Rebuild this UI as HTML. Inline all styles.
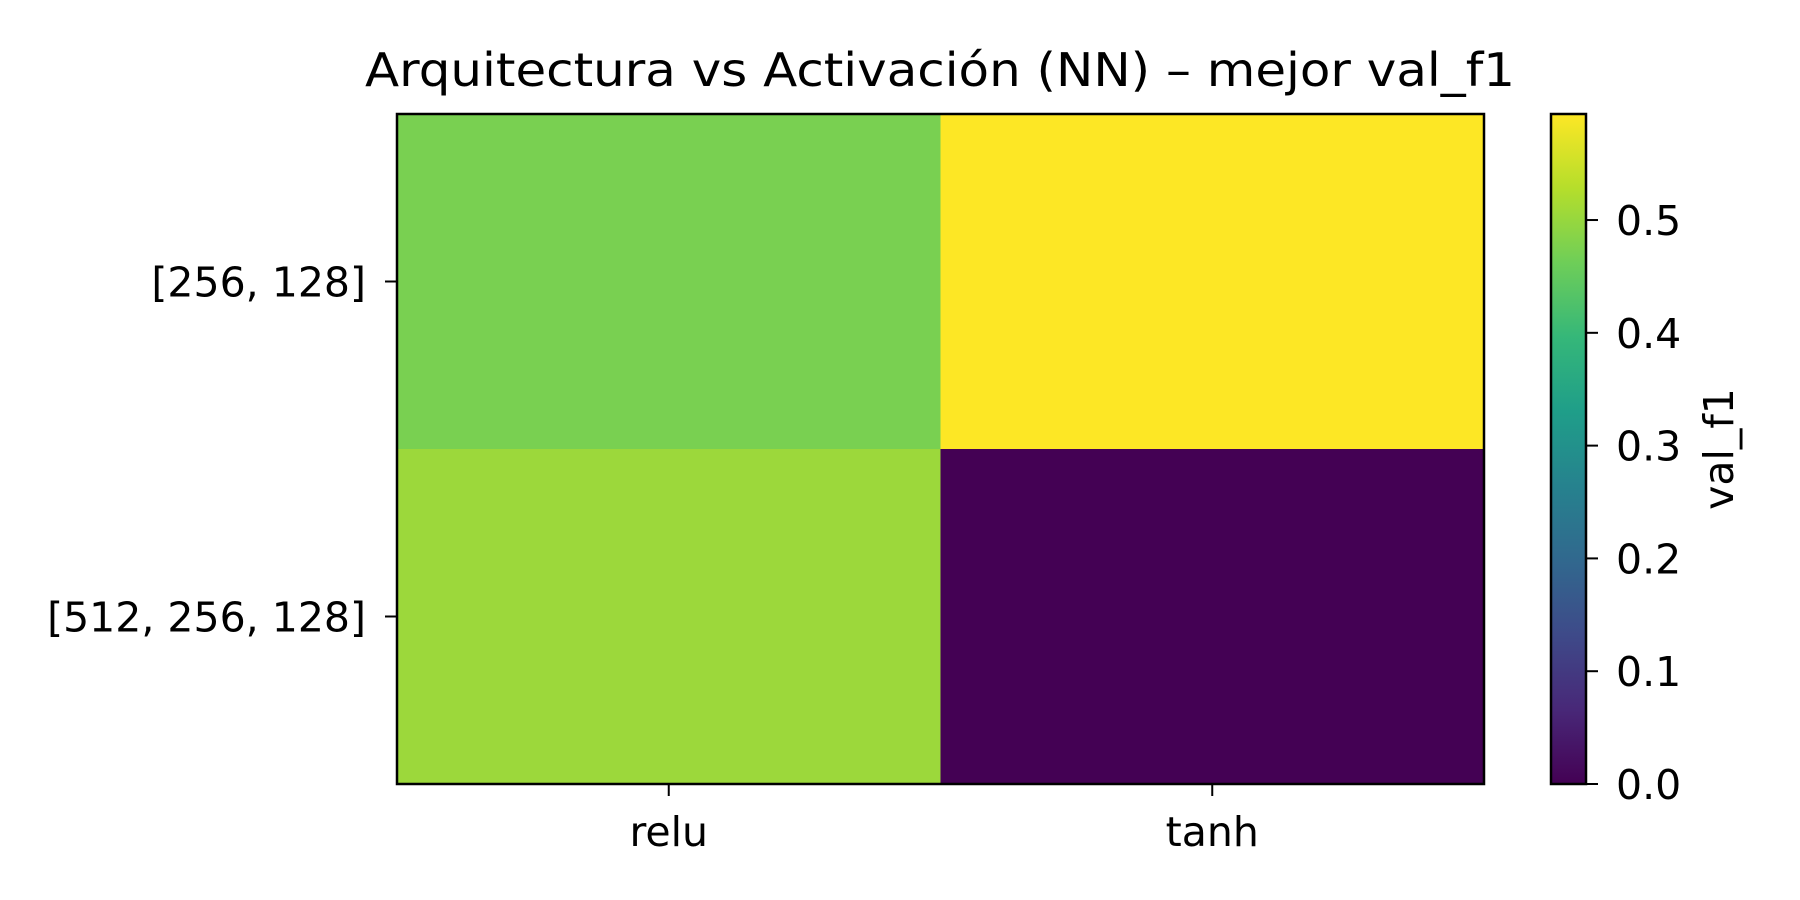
<!DOCTYPE html>
<html><head><meta charset="utf-8"><style>
body{margin:0;background:#fff}
svg{display:block;font-family:"DejaVu Sans","Liberation Sans",sans-serif}
</style></head><body>
<svg id="chart" width="1800" height="900" viewBox="0 0 1800 900">
<defs><linearGradient id="cbg" x1="0" y1="1" x2="0" y2="0"></linearGradient></defs>
<text x="940" y="86" font-size="46" text-anchor="middle" textLength="1150" lengthAdjust="spacingAndGlyphs">Arquitectura vs Activación (NN) – mejor val_f1</text>
<g id="cells"></g>
<g id="axes"></g>
</svg>
<script>
const rows = ["[256, 128]", "[512, 256, 128]"];
const cols = ["relu", "tanh"];
const valRelu = [0.472, 0.505];
const valTanh = [0.594, 0.0];
const cbTicks = [0.0, 0.1, 0.2, 0.3, 0.4, 0.5];
const cbLabels = ["0.0", "0.1", "0.2", "0.3", "0.4", "0.5"];

const vmin = 0, vmax = 0.594;
const L = 397, R = 1484, T = 114, B = 784;
const cbL = 1551, cbR = 1586;
const NS = "http://www.w3.org/2000/svg";
const vir = [[68,1,84],[72,40,120],[62,74,137],[49,104,142],[38,130,142],[31,158,137],[53,183,121],[110,206,88],[181,222,43],[253,231,37]];
function viridis(t){t=Math.max(0,Math.min(1,t));const p=t*(vir.length-1),i=Math.min(vir.length-2,Math.floor(p)),f=p-i;
 const c=vir[i].map((v,k)=>Math.round(v+(vir[i+1][k]-v)*f));return `rgb(${c[0]},${c[1]},${c[2]})`;}
const cw=(R-L)/cols.length, ch=(B-T)/rows.length;
const xc=i=>L+cw*(i+0.5), yc=j=>T+ch*(j+0.5);
const cy=v=>B-(v-vmin)/(vmax-vmin)*(B-T);
function mk(tag,attrs,parent){const e=document.createElementNS(NS,tag);for(const k in attrs)e.setAttribute(k,attrs[k]);parent.appendChild(e);return e;}
const cells=document.getElementById('cells'), axes=document.getElementById('axes');
const series=[valRelu,valTanh];
series.forEach((vals,ci)=>vals.forEach((v,ri)=>{
 const r=mk('rect',{x:L+cw*ci,y:T+ch*ri,width:cw+0.5,height:ch+0.5,fill:viridis((v-vmin)/(vmax-vmin))},cells);
 
 
}));
const frame=mk('rect',{x:L,y:T,width:R-L,height:B-T,fill:'none',stroke:'#000','stroke-width':2.5},axes);


cols.forEach((c,i)=>{
 const t=mk('line',{x1:xc(i),x2:xc(i),y1:B,y2:B+12,stroke:'#000','stroke-width':2},axes);
 
 
 const tx=mk('text',{x:xc(i),y:B+62,'font-size':41,'text-anchor':'middle'},axes);tx.textContent=c;
 
 
});
rows.forEach((r,j)=>{
 const t=mk('line',{x1:L-12,x2:L,y1:yc(j),y2:yc(j),stroke:'#000','stroke-width':2},axes);
 
 
 const tx=mk('text',{x:L-31,y:yc(j)+15,'font-size':41,'text-anchor':'end'},axes);tx.textContent=r;
 
 
});
const g=document.getElementById('cbg');
vir.forEach((c,i)=>mk('stop',{offset:(i/(vir.length-1)*100)+'%','stop-color':`rgb(${c})`},g));
const cb=mk('rect',{x:cbL,y:T,width:cbR-cbL,height:B-T,fill:'url(#cbg)',stroke:'#000','stroke-width':2.5},axes);


cbTicks.forEach((v,i)=>{
 const t=mk('line',{x1:cbR,x2:cbR+12,y1:cy(v),y2:cy(v),stroke:'#000','stroke-width':2},axes);
 
 
 const tx=mk('text',{x:cbR+30,y:cy(v)+15,'font-size':41},axes);tx.textContent=cbLabels[i];
 
 
});
const lab=mk('text',{x:0,y:0,'font-size':41,'text-anchor':'middle',transform:`translate(1733,${(T+B)/2}) rotate(-90)`},axes);
lab.textContent='val_f1';


</script>
</body></html>
